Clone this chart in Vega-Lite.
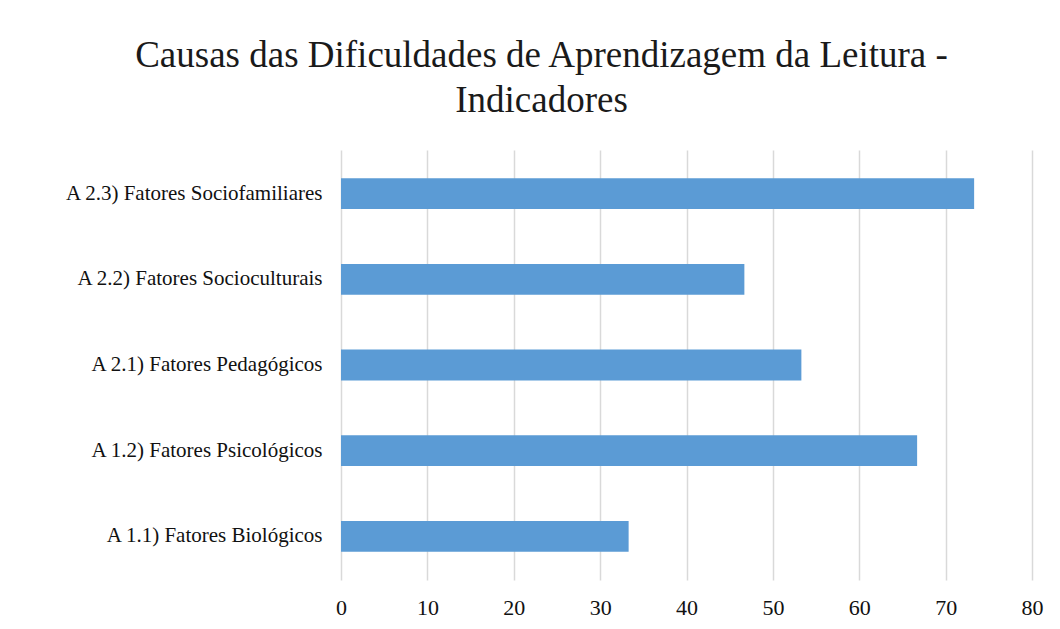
{
  "$schema": "https://vega.github.io/schema/vega-lite/v6.json",
  "autosize": "none",
  "width": 691,
  "height": 430,
  "padding": {"left": 341, "top": 150, "right": 28, "bottom": 49},
  "background": "white",
  "title": {
    "text": ["Causas das Dificuldades de Aprendizagem da Leitura -", "Indicadores"],
    "font": "Liberation Serif",
    "fontSize": 37,
    "fontWeight": "normal",
    "color": "#1a1a1a",
    "lineHeight": 45,
    "anchor": "middle",
    "frame": "group",
    "dx": -145,
    "offset": 30
  },
  "data": {
    "values": [
      {"indicador": "A 2.3) Fatores Sociofamiliares", "valor": 73.3},
      {"indicador": "A 2.2) Fatores Socioculturais", "valor": 46.7},
      {"indicador": "A 2.1) Fatores Pedagógicos", "valor": 53.3},
      {"indicador": "A 1.2) Fatores Psicológicos", "valor": 66.7},
      {"indicador": "A 1.1) Fatores Biológicos", "valor": 33.3}
    ]
  },
  "mark": {"type": "bar", "color": "#5b9bd5"},
  "encoding": {
    "y": {
      "field": "indicador",
      "type": "nominal",
      "sort": null,
      "scale": {"paddingInner": 0.64, "paddingOuter": 0.33},
      "axis": {
        "title": null,
        "domain": false,
        "ticks": false,
        "grid": false,
        "labelFont": "Liberation Serif",
        "labelFontSize": 21,
        "labelFontWeight": "normal",
        "labelColor": "#111111",
        "labelPadding": 19,
        "labelLimit": 400
      }
    },
    "x": {
      "field": "valor",
      "type": "quantitative",
      "scale": {"domain": [0, 80], "nice": false},
      "axis": {
        "title": null,
        "values": [0, 10, 20, 30, 40, 50, 60, 70, 80],
        "domain": false,
        "ticks": false,
        "grid": true,
        "gridColor": "#d9d9d9",
        "gridWidth": 1.5,
        "labelFlush": false,
        "labelFont": "Liberation Serif",
        "labelFontSize": 22,
        "labelColor": "#111111",
        "labelPadding": 17
      }
    }
  },
  "config": {"view": {"stroke": null}}
}
